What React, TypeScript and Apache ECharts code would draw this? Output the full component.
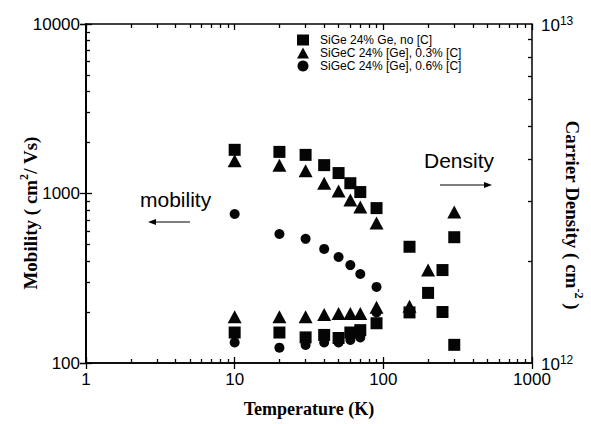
import React, { useEffect, useRef } from "react";
import * as echarts from "echarts";

// ---- data ----
const seriesNames = [
  "SiGe 24% Ge, no [C]",
  "SiGeC 24% [Ge], 0.3% [C]",
  "SiGeC 24% [Ge], 0.6% [C]",
];
const xTicks = [1, 10, 100, 1000];
const mobTicks = [100, 1000, 10000];
const denTicks = [1e12, 1e13];

// mobility (cm^2/Vs) vs temperature (K)
const sqMobT = [10, 20, 30, 40, 50, 60, 70, 90, 150, 250, 300];
const sqMob = [1810, 1760, 1690, 1470, 1320, 1150, 1020, 820, 485, 200, 128];
const triMobT = [10, 20, 30, 40, 50, 60, 70, 90];
const triMob = [1560, 1470, 1360, 1150, 1035, 916, 832, 670];
const cirMobT = [10, 20, 30, 40, 50, 60, 70, 90];
const cirMob = [757, 577, 540, 471, 422, 378, 335, 281];

// carrier density (cm^-2) vs temperature (K)
const sqDenT = [10, 20, 30, 40, 50, 60, 70, 90, 150, 200, 250, 300];
const sqDen = [1.23e12, 1.23e12, 1.19e12, 1.21e12, 1.185e12, 1.23e12, 1.25e12, 1.31e12, 1.41e12, 1.61e12, 1.88e12, 2.35e12];
const triDenT = [10, 20, 30, 40, 50, 60, 70, 90, 150, 200, 300];
const triDen = [1.37e12, 1.37e12, 1.37e12, 1.39e12, 1.4e12, 1.4e12, 1.4e12, 1.46e12, 1.47e12, 1.88e12, 2.79e12];
const cirDenT = [10, 20, 30, 40, 50, 60, 70, 90];
const cirDen = [1.15e12, 1.11e12, 1.13e12, 1.15e12, 1.15e12, 1.17e12, 1.19e12, 1.41e12];

// minor tick multipliers within a decade
const decadeSteps = [2, 3, 4, 5, 6, 7, 8, 9];

const zip = (xs: number[], ys: number[]) => xs.map((x, i) => [x, ys[i]]);

const SANS = "'Liberation Sans', Arial, sans-serif";
const SERIF = "'Liberation Serif', 'Times New Roman', serif";

// exponents (log10) of the minor tick positions inside [lo, hi]
const minorExps = (lo: number, hi: number) => {
  const out: number[] = [];
  for (let d = lo; d < hi * 0.999; d *= 10) {
    const base = d;
    decadeSteps.forEach((k) => out.push(Math.log10(base * k)));
  }
  return out;
};

export default function App() {
  const ref = useRef<HTMLDivElement>(null);
  useEffect(() => {
    if (!ref.current) return;
    const chart = echarts.init(ref.current, null, { renderer: "svg" });
    const markers = [
      { symbol: "rect", size: 12 },
      { symbol: "triangle", size: [14, 13] },
      { symbol: "circle", size: 10 },
    ];
    const mk = (idx: number, data: number[][], yAxisIndex: number) => ({
      name: seriesNames[idx],
      type: "scatter",
      xAxisIndex: 0,
      yAxisIndex,
      symbol: markers[idx].symbol,
      symbolSize: markers[idx].size,
      itemStyle: { color: "#050505", opacity: 1 },
      data,
      z: 3,
    });
    const xMin = xTicks[0], xMax = xTicks[xTicks.length - 1];
    const yMin = mobTicks[0], yMax = mobTicks[mobTicks.length - 1];
    const tickLine = { color: "#000", width: 1.3 };
    const off = {
      axisLine: { show: false },
      axisLabel: { show: false },
      splitLine: { show: false },
    };
    // helper axes that only carry tick marks
    const majorX = (position: string, inside: boolean) => ({
      type: "log", logBase: 10, min: xMin, max: xMax, position, ...off,
      axisTick: { show: true, inside, length: 6, lineStyle: tickLine },
    });
    const minorX = (position: string) => ({
      type: "value", min: Math.log10(xMin), max: Math.log10(xMax), position, ...off,
      axisTick: { show: true, inside: true, length: 4, lineStyle: tickLine, customValues: minorExps(xMin, xMax) },
    });
    const majorY = (position: string, inside: boolean, lo: number, hi: number) => ({
      type: "log", logBase: 10, min: lo, max: hi, position, ...off,
      axisTick: { show: true, inside, length: 6, lineStyle: tickLine },
    });
    const minorY = (position: string, lo: number, hi: number) => ({
      type: "value", min: Math.log10(lo), max: Math.log10(hi), position, ...off,
      axisTick: { show: true, inside: true, length: 4, lineStyle: tickLine, customValues: minorExps(lo, hi) },
    });

    const option: any = {
      animation: false,
      backgroundColor: "#fff",
      grid: {
        left: 86,
        right: 59,
        top: 24,
        bottom: 61,
        show: true,
        borderColor: "#000",
        borderWidth: 1.5,
        backgroundColor: "transparent",
      },
      legend: {
        orient: "vertical",
        left: 292,
        top: 29,
        itemGap: 1,
        itemWidth: 12,
        itemHeight: 11,
        data: seriesNames.map((n, i) => ({ name: n, icon: markers[i].symbol })),
        textStyle: { color: "#000", fontSize: 12, lineHeight: 12, fontFamily: SANS, padding: [0, 0, 0, 6] },
        itemStyle: { color: "#050505" },
      },
      xAxis: [
        {
          type: "log",
          logBase: 10,
          min: xMin,
          max: xMax,
          position: "bottom",
          axisLine: { lineStyle: { color: "#000", width: 1.5 } },
          axisTick: { show: true, inside: true, length: 6, lineStyle: tickLine },
          splitLine: { show: false },
          axisLabel: {
            color: "#000",
            fontSize: 17,
            fontFamily: SANS,
            margin: 8,
            formatter: (v: number) => String(Math.round(v)),
          },
        },
        majorX("bottom", false),
        majorX("top", true),
        minorX("bottom"),
        minorX("top"),
      ],
      yAxis: [
        {
          type: "log",
          logBase: 10,
          min: yMin,
          max: yMax,
          position: "left",
          axisLine: { show: true, lineStyle: { color: "#000", width: 1.5 } },
          axisTick: { show: true, inside: true, length: 6, lineStyle: tickLine },
          splitLine: { show: false },
          axisLabel: {
            color: "#000",
            fontSize: 17,
            fontFamily: SANS,
            margin: 6,
            formatter: (v: number) => String(Math.round(v)),
          },
        },
        {
          type: "log",
          logBase: 10,
          min: denTicks[0],
          max: denTicks[1],
          position: "right",
          axisLine: { show: true, lineStyle: { color: "#000", width: 1.5 } },
          axisTick: { show: true, inside: true, length: 6, lineStyle: tickLine },
          splitLine: { show: false },
          axisLabel: {
            margin: 9,
            formatter: (v: number) => `{b|10}{s|${Math.round(Math.log10(v))}}`,
            rich: {
              b: { fontSize: 17, fontFamily: SANS, color: "#000", padding: [2, 0, 0, 0] },
              s: { fontSize: 12, fontFamily: SANS, color: "#000", padding: [0, 0, 7, 0] },
            },
          },
        },
        majorY("left", false, yMin, yMax),
        minorY("left", yMin, yMax),
        minorY("right", denTicks[0], denTicks[1]),
      ],
      series: [
        mk(0, zip(sqMobT, sqMob), 0),
        mk(0, zip(sqDenT, sqDen), 1),
        mk(1, zip(triMobT, triMob), 0),
        mk(1, zip(triDenT, triDen), 1),
        mk(2, zip(cirMobT, cirMob), 0),
        mk(2, zip(cirDenT, cirDen), 1),
      ],
      graphic: [
        {
          type: "text",
          x: 309,
          y: 409,
          style: {
            text: "Temperature (K)",
            font: `bold 18px ${SERIF}`,
            fill: "#000",
            textAlign: "center",
            textVerticalAlign: "middle",
          },
        },
        {
          type: "text",
          x: 27,
          y: 213,
          rotation: Math.PI / 2,
          style: {
            text: "{a|Mobility ( cm}{s|2}{a|/ Vs)}",
            rich: {
              a: { font: `bold 19px ${SERIF}`, fill: "#000", padding: [6, 0, 0, 0] },
              s: { font: `bold 12px ${SERIF}`, fill: "#000", padding: [0, 0, 7, 0] },
            },
            textAlign: "center",
            textVerticalAlign: "middle",
          },
        },
        {
          type: "text",
          x: 575,
          y: 215,
          rotation: -Math.PI / 2,
          style: {
            text: "{a|Carrier Density ( cm}{s|-2}{a| )}",
            rich: {
              a: { font: `bold 19px ${SERIF}`, fill: "#000", padding: [6, 0, 0, 0] },
              s: { font: `bold 12px ${SERIF}`, fill: "#000", padding: [0, 0, 7, 0] },
            },
            textAlign: "center",
            textVerticalAlign: "middle",
          },
        },
        {
          type: "text",
          x: 140,
          y: 199,
          style: { text: "mobility", font: `21px ${SANS}`, fill: "#000", textAlign: "left", textVerticalAlign: "middle" },
        },
        {
          type: "text",
          x: 424,
          y: 160,
          style: { text: "Density", font: `21px ${SANS}`, fill: "#000", textAlign: "left", textVerticalAlign: "middle" },
        },
        { type: "line", shape: { x1: 152, y1: 222, x2: 190, y2: 222 }, style: { stroke: "#000", lineWidth: 1.2 } },
        { type: "polygon", shape: { points: [[148, 222], [156, 219], [156, 225]] }, style: { fill: "#000" } },
        { type: "line", shape: { x1: 440, y1: 185, x2: 486, y2: 185 }, style: { stroke: "#000", lineWidth: 1.2 } },
        { type: "polygon", shape: { points: [[492, 185], [484, 182], [484, 188]] }, style: { fill: "#000" } },
      ],
    };
    chart.setOption(option);
    return () => chart.dispose();
  }, []);
  return (
    <div
      ref={ref}
      style={{ position: "fixed", left: 0, top: 0, width: 591, height: 424, background: "#fff" }}
    />
  );
}
